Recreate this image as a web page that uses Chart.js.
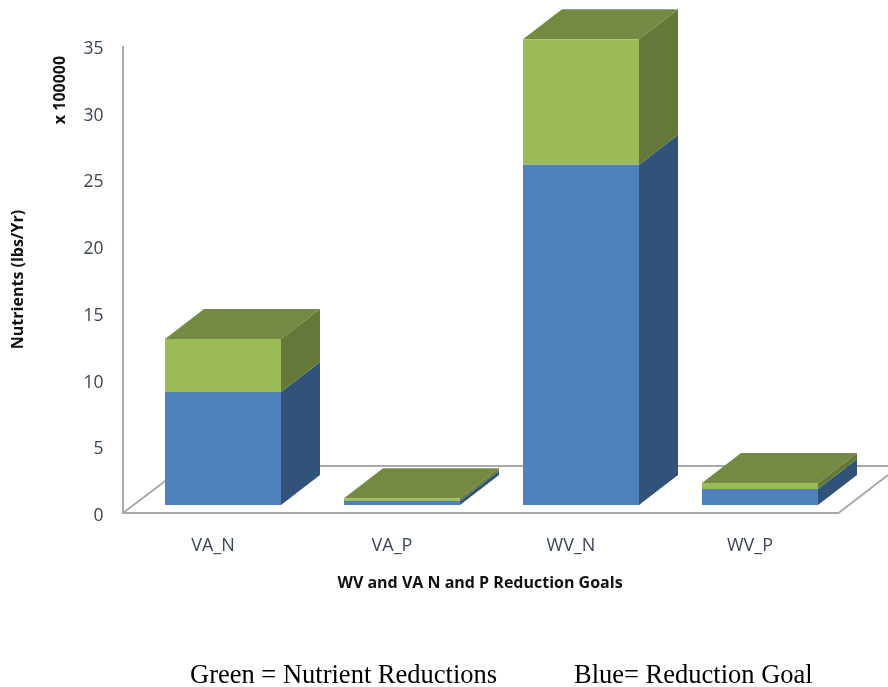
<!DOCTYPE html>
<html>
<head>
<meta charset="utf-8">
<title>WV and VA N and P Reduction Goals</title>
<script src="https://cdn.jsdelivr.net/npm/chart.js@4/dist/chart.umd.min.js"></script>
<style>
  html, body { margin: 0; padding: 0; background: #fff; overflow: hidden; }
  canvas { display: block; }
</style>
</head>
<body>
<canvas id="myChart" width="888" height="687"></canvas>
<script>
// Datos (x 100000 lbs/Yr)
const categories = ['VA_N', 'VA_P', 'WV_N', 'WV_P'];
const reductionGoal = [8.47, 0.3, 25.5, 1.2];
const nutrientReductions = [3.97, 0.2, 9.4, 0.45];
const yTicks = [0, 5, 10, 15, 20, 25, 30, 35];

// Profundidad del efecto 3D
const depthX = 39;
const depthY = 30;
const FONT = '"Open Sans", sans-serif';
const TICK_COLOR = '#3a4556';
const FLOOR_COLOR = '#a9a9a9';

function face(ctx, points, color) {
    ctx.fillStyle = color;
    ctx.beginPath();
    points.forEach((p, i) => i ? ctx.lineTo(p[0], p[1]) : ctx.moveTo(p[0], p[1]));
    ctx.closePath();
    ctx.fill();
}

// Piso, eje vertical y caras laterales y superiores de las barras
const bars3d = {
    id: 'bars3d',
    beforeDatasetsDraw(chart) {
        const { ctx, chartArea, scales } = chart;
        const left = chartArea.left - 10.5;
        const right = chartArea.right - 11;
        const bottom = chartArea.bottom;
        const back = bottom - 47;

        ctx.save();
        ctx.strokeStyle = FLOOR_COLOR;
        ctx.lineWidth = 2;
        ctx.beginPath();
        ctx.moveTo(left, scales.y.top);
        ctx.lineTo(left, bottom);
        ctx.lineTo(right, bottom);
        ctx.lineTo(888, bottom - (888 - right) * depthY / depthX);
        ctx.moveTo(left, bottom);
        ctx.lineTo(left + 62, back);
        ctx.lineTo(888, back);
        ctx.stroke();

        const sideColors = ['#325379', '#657837'];
        chart.data.datasets.forEach((ds, d) => {
            chart.getDatasetMeta(d).data.forEach(bar => {
                const x1 = bar.x + bar.width / 2;
                face(ctx, [[x1, bar.base], [x1 + depthX, bar.base - depthY],
                    [x1 + depthX, bar.y - depthY], [x1, bar.y]], sideColors[d]);
            });
        });
        chart.getDatasetMeta(chart.data.datasets.length - 1).data.forEach(bar => {
            const x0 = bar.x - bar.width / 2;
            const x1 = bar.x + bar.width / 2;
            face(ctx, [[x0, bar.y], [x1, bar.y], [x1 + depthX, bar.y - depthY],
                [x0 + depthX, bar.y - depthY]], '#748A43');
        });
        ctx.restore();
    },
    afterDraw(chart) {
        const { ctx } = chart;
        ctx.save();
        ctx.fillStyle = '#111';
        ctx.textBaseline = 'middle';

        ctx.textAlign = 'center';
        ctx.font = 'bold 16px ' + FONT;
        ctx.fillText('WV and VA N and P Reduction Goals', 480, 583);

        ctx.translate(60, 90);
        ctx.rotate(-Math.PI / 2);
        ctx.font = 'bold 16px ' + FONT;
        ctx.fillText('x 100000', 0, 0);
        ctx.restore();

        ctx.save();
        ctx.fillStyle = '#000';
        ctx.textBaseline = 'alphabetic';
        ctx.textAlign = 'left';
        ctx.font = '26.5px "Liberation Serif", serif';
        ctx.fillText('Green = Nutrient Reductions', 190, 683);
        ctx.fillText('Blue= Reduction Goal', 574, 683);
        ctx.restore();
    }
};

new Chart(document.getElementById('myChart'), {
    type: 'bar',
    plugins: [bars3d],
    data: {
        labels: categories,
        datasets: [
            { label: 'Reduction Goal', data: reductionGoal, backgroundColor: '#4F81BD', yAxisID: 'bars', clip: false },
            { label: 'Nutrient Reductions', data: nutrientReductions, backgroundColor: '#9BBB59', yAxisID: 'bars', clip: false }
        ]
    },
    options: {
        responsive: false,
        animation: false,
        layout: { padding: { top: 46, right: 38.5 } },
        datasets: { bar: { categoryPercentage: 1, barPercentage: 0.648 } },
        plugins: { legend: { display: false }, tooltip: { enabled: false } },
        scales: {
            x: {
                stacked: true,
                grid: { display: false },
                border: { display: false },
                afterFit: scale => { scale.height = 174; },
                ticks: { color: TICK_COLOR, font: { family: FONT, size: 18 }, padding: 14, labelOffset: -10, maxRotation: 0 }
            },
            y: {
                min: 0,
                max: 35,
                grid: { display: false },
                border: { display: false },
                afterBuildTicks: scale => { scale.ticks = yTicks.map(v => ({ value: v })); },
                afterFit: scale => { scale.width = 133.5; },
                ticks: { color: TICK_COLOR, font: { family: FONT, size: 17.5 }, padding: 22, labelOffset: 3 },
                title: { display: true, text: 'Nutrients (lbs/Yr)', color: '#111', font: { family: FONT, size: 16, weight: 'bold' }, padding: { top: 9, bottom: 0 } }
            },
            // Misma escala que y pero con la base de las barras 8px sobre el cero del eje
            bars: {
                display: false,
                stacked: true,
                min: -0.6,
                max: 34.4
            }
        }
    }
});
</script>
</body>
</html>
